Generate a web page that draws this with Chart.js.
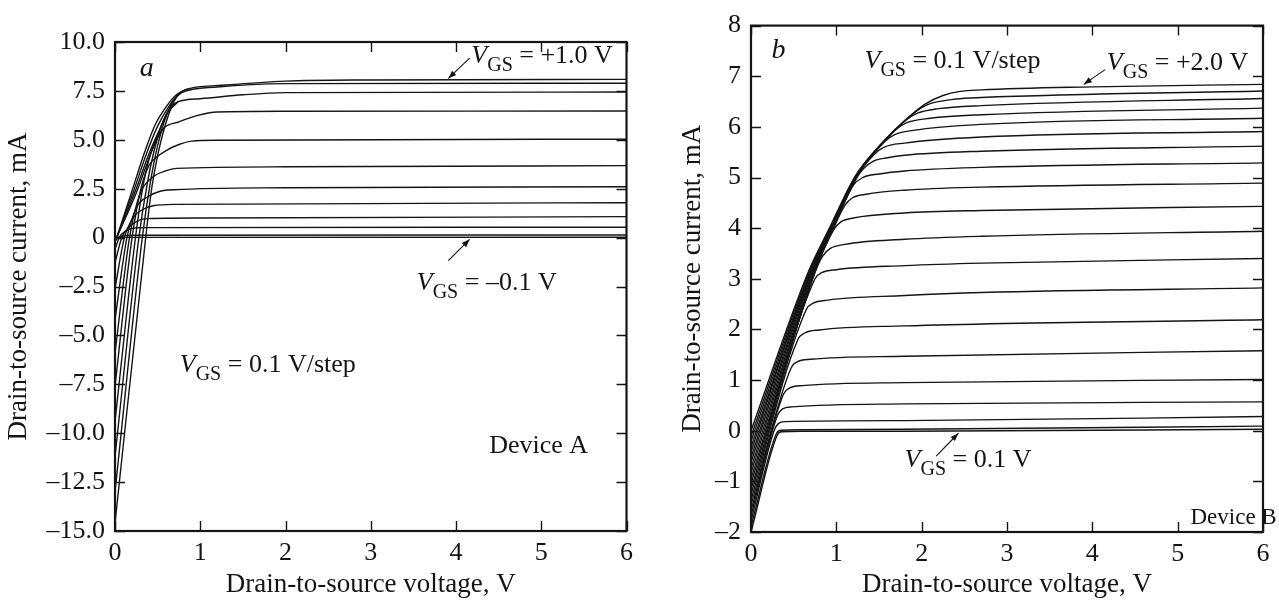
<!DOCTYPE html>
<html><head><meta charset="utf-8">
<script src="https://cdn.jsdelivr.net/npm/chart.js@4.4.1/dist/chart.umd.min.js"></script>
<style>
html,body{margin:0;padding:0;background:#fff;}
#wrap{position:relative;width:1279px;height:602px;overflow:hidden;background:#fff;}
#ca{position:absolute;left:0;top:0;}
#cb{position:absolute;left:640px;top:0;}
</style></head><body>
<div id="wrap"><canvas id="ca" width="640" height="602"></canvas><canvas id="cb" width="639" height="602"></canvas></div>
<script>
const FONT = '"Liberation Serif","Times New Roman",Times,serif';
const INK = '#141414';

// ---------- Panel a (Device A): VGS = -0.1 ... +1.0 V, step 0.1 V ----------
// [Vds (V), Ids (mA)]
const aVm01 = [[0,0],[0.1,0.01],[6,0.02]];
const aV00 = [[0,-0.2],[0.04,0.02],[0.12,0.1],[0.25,0.12],[6,0.13]];
const aV01 = [[0,-0.6],[0.05,0],[0.13,0.35],[0.25,0.5],[0.4,0.51],[6,0.53]];
const aV02 = [[0,-1.3],[0.08,0],[0.18,0.6],[0.28,0.88],[0.38,0.97],[1,1.0],[6,1.07]];
const aV03 = [[0,-2.6],[0.11,0],[0.22,1.05],[0.33,1.45],[0.45,1.63],[0.7,1.7],[6,1.78]];
const aV04 = [[0,-4.2],[0.14,0],[0.26,1.6],[0.39,2.1],[0.53,2.37],[0.7,2.45],[2,2.55],[6,2.6]];
const aV05 = [[0,-5.9],[0.17,0],[0.29,2.2],[0.43,3.05],[0.6,3.42],[0.72,3.54],[2,3.62],[6,3.68]];
const aV06 = [[0,-7.6],[0.2,0],[0.31,2.6],[0.4,3.7],[0.47,4.05],[0.6,4.45],[0.75,4.76],[0.9,4.93],[1.2,4.98],[6,5.03]];
const aV07 = [[0,-9.4],[0.24,0],[0.34,2.9],[0.45,4.7],[0.57,5.59],[0.75,5.92],[0.95,6.22],[1.2,6.42],[2,6.46],[6,6.47]];
const aV08 = [[0,-11.2],[0.28,0],[0.38,2.8],[0.48,4.8],[0.6,6.3],[0.74,6.95],[1,7.1],[1.5,7.3],[2,7.41],[6,7.44]];
const aV09 = [[0,-13],[0.32,0],[0.41,2.7],[0.5,4.7],[0.6,6.2],[0.7,7.1],[0.78,7.41],[1.2,7.7],[2,7.87],[6,7.89]];
const aV10 = [[0,-14.6],[0.36,0],[0.43,2.5],[0.51,4.4],[0.59,5.76],[0.69,6.95],[0.78,7.45],[0.88,7.63],[1.3,7.8],[2,8.0],[3,8.06],[6,8.09]];
// low-side branches rising from the origin
const aR07 = [[0.02,0],[0.26,2.4],[0.42,4.3],[0.5,5.1],[0.57,5.59]];
const aR08 = [[0.02,0],[0.24,2.4],[0.4,4.3],[0.52,5.5],[0.62,6.4],[0.74,6.95]];
const aR09 = [[0.02,0],[0.22,2.4],[0.37,4.3],[0.5,5.7],[0.63,6.7],[0.72,7.2],[0.78,7.41]];
const aR10 = [[0.02,0],[0.2,2.4],[0.35,4.4],[0.47,5.76],[0.61,6.75],[0.72,7.3],[0.82,7.55],[0.88,7.63]];

const aXTicks = [0,1,2,3,4,5,6];
const aYTicks = [10,7.5,5,2.5,0,-2.5,-5,-7.5,-10,-12.5,-15];
const aYLabels = ['10.0','7.5','5.0','2.5','0','\u20132.5','\u20135.0','\u20137.5','\u201310.0','\u201312.5','\u201315.0'];

// ---------- Panel b (Device B): VGS = 0.1 ... 2.0 V, step 0.1 V ----------
const b01 = [[0,-2.0],[0.31,-0.08],[0.36,-0.02],[0.6,-0.01],[1.8,-0.01],[6,0.03]];
const b02 = [[0,-1.89],[0.3,-0.05],[0.35,0.01],[0.6,0.02],[1.8,0.03],[6,0.09]];
const b03 = [[0,-1.79],[0.27,0.0],[0.32,0.14],[0.4,0.18],[1.8,0.2],[6,0.28]];
const b04 = [[0,-1.68],[0.31,0.3],[0.37,0.43],[0.48,0.47],[1.8,0.53],[6,0.57]];
const b05 = [[0,-1.58],[0.38,0.72],[0.45,0.84],[0.6,0.89],[1.8,0.95],[6,1.01]];
const b06 = [[0,-1.47],[0.47,1.24],[0.54,1.36],[0.7,1.41],[1.8,1.47],[6,1.58]];
const b07 = [[0,-1.37],[0.55,1.8],[0.63,1.93],[0.8,1.99],[1.8,2.07],[6,2.19]];
const b08 = [[0,-1.26],[0.65,2.4],[0.73,2.52],[0.9,2.58],[1.8,2.67],[2.7,2.73],[6,2.82]];
const b09 = [[0,-1.16],[0.75,3.0],[0.83,3.12],[1.0,3.18],[1.8,3.26],[2.7,3.31],[6,3.40]];
const b10 = [[0,-1.05],[0.75,3.13],[0.84,3.45],[0.93,3.6],[1.1,3.68],[1.8,3.78],[2.7,3.84],[6,3.94]];
const b11 = [[0,-0.95],[0.75,3.13],[0.97,3.97],[1.05,4.12],[1.2,4.2],[1.8,4.3],[2.7,4.35],[6,4.43]];
const b12 = [[0,-0.84],[0.74,3.13],[0.96,3.97],[1.1,4.45],[1.19,4.6],[1.35,4.67],[1.8,4.75],[2.7,4.81],[6,4.89]];
const b13 = [[0,-0.74],[0.73,3.13],[0.95,3.97],[1.2,4.85],[1.31,5.0],[1.5,5.07],[1.8,5.13],[2.7,5.2],[6,5.29]];
const b14 = [[0,-0.63],[0.72,3.13],[0.95,3.97],[1.25,5.02],[1.32,5.18],[1.43,5.32],[1.6,5.39],[1.8,5.44],[2.7,5.52],[6,5.62]];
const b15 = [[0,-0.53],[0.71,3.13],[0.94,3.97],[1.24,5.02],[1.44,5.45],[1.56,5.6],[1.8,5.68],[2.7,5.8],[6,5.91]];
const b16 = [[0,-0.42],[0.7,3.13],[0.94,3.97],[1.24,5.02],[1.56,5.7],[1.69,5.85],[1.9,5.93],[2.7,6.05],[6,6.17]];
const b17 = [[0,-0.32],[0.7,3.13],[0.93,3.97],[1.23,5.02],[1.54,5.67],[1.7,5.95],[1.82,6.08],[2.1,6.17],[2.7,6.24],[6,6.37]];
const b18 = [[0,-0.21],[0.69,3.13],[0.92,3.97],[1.23,5.02],[1.54,5.67],[1.83,6.15],[1.95,6.27],[2.2,6.36],[2.7,6.42],[6,6.56]];
const b19 = [[0,-0.11],[0.68,3.13],[0.92,3.97],[1.22,5.02],[1.53,5.67],[1.8,6.12],[2.0,6.38],[2.1,6.46],[2.4,6.55],[2.7,6.58],[6,6.71]];
const b20 = [[0,0],[0.67,3.13],[0.91,3.97],[1.22,5.02],[1.53,5.67],[1.8,6.12],[2.04,6.45],[2.25,6.62],[2.45,6.7],[2.7,6.73],[4,6.79],[6,6.84]];

const bXTicks = [0,1,2,3,4,5,6];
const bYTicks = [8,7,6,5,4,3,2,1,0,-1,-2];
const bYLabels = ['8','7','6','5','4','3','2','1','0','\u20131','\u20132'];

const curvesA = [aVm01,aV00,aV01,aV02,aV03,aV04,aV05,aV06,aV07,aV08,aV09,aV10,aR07,aR08,aR09,aR10];
const curvesB = [b01,b02,b03,b04,b05,b06,b07,b08,b09,b10,b11,b12,b13,b14,b15,b16,b17,b18,b19,b20];

// ---------- plugins ----------
const framePlugin = {
  id:'frame',
  afterDatasetsDraw(chart){
    const {ctx, chartArea:a, scales:{x,y}} = chart;
    ctx.save();
    ctx.strokeStyle = INK;
    ctx.lineWidth = 1.4;
    const L = 10;
    ctx.beginPath();
    x.ticks.forEach(t=>{
      const p = Math.round(x.getPixelForValue(t.value))+0.5;
      ctx.moveTo(p,a.bottom); ctx.lineTo(p,a.bottom-L);
      ctx.moveTo(p,a.top); ctx.lineTo(p,a.top+L);
    });
    y.ticks.forEach(t=>{
      const p = Math.round(y.getPixelForValue(t.value))+0.5;
      ctx.moveTo(a.left,p); ctx.lineTo(a.left+L,p);
      ctx.moveTo(a.right,p); ctx.lineTo(a.right-L,p);
    });
    ctx.stroke();
    ctx.lineWidth = 2.2;
    ctx.strokeRect(a.left, a.top, a.right-a.left, a.bottom-a.top);
    ctx.restore();
  }
};

function drawParts(ctx, px, py, parts){
  let cx = px;
  parts.forEach(([txt, st])=>{
    let dy = 0;
    if (st==='i') ctx.font = 'italic 26px '+FONT;
    else if (st==='I') ctx.font = 'italic 28px '+FONT;
    else if (st==='sub') { ctx.font = '20px '+FONT; dy = 8; }
    else if (st==='s') ctx.font = '23px '+FONT;
    else ctx.font = '26px '+FONT;
    ctx.fillText(txt, cx, py+dy);
    cx += ctx.measureText(txt).width;
  });
}

const notePlugin = {
  id:'notes',
  afterDraw(chart, args, opts){
    const {ctx, scales:{x,y}} = chart;
    ctx.save();
    ctx.fillStyle = INK; ctx.strokeStyle = INK;
    ctx.textBaseline = 'alphabetic'; ctx.textAlign = 'left';
    (opts.notes||[]).forEach(n=>{
      drawParts(ctx, x.getPixelForValue(n.x), y.getPixelForValue(n.y), n.parts);
    });
    (opts.arrows||[]).forEach(ar=>{
      const x0 = x.getPixelForValue(ar.from[0]), y0 = y.getPixelForValue(ar.from[1]);
      const x1 = x.getPixelForValue(ar.to[0]), y1 = y.getPixelForValue(ar.to[1]);
      ctx.lineWidth = 1.1;
      ctx.beginPath(); ctx.moveTo(x0,y0); ctx.lineTo(x1,y1); ctx.stroke();
      const ang = Math.atan2(y1-y0, x1-x0), len = 8, w = 3;
      const bx = x1 - len*Math.cos(ang), by = y1 - len*Math.sin(ang);
      ctx.beginPath();
      ctx.moveTo(x1,y1);
      ctx.lineTo(bx + w*Math.sin(ang), by - w*Math.cos(ang));
      ctx.lineTo(bx - w*Math.sin(ang), by + w*Math.cos(ang));
      ctx.closePath(); ctx.fill();
    });
    ctx.restore();
  }
};

function build(id, curves, cfg){
  return new Chart(document.getElementById(id), {
    type:'line',
    data:{datasets: curves.map(c=>({
      data: c.map(p=>({x:p[0], y:p[1]})),
      borderColor: INK, borderWidth: 1.4, pointRadius: 0, fill: false,
      cubicInterpolationMode: 'monotone'
    }))},
    options:{
      responsive:false, animation:false, events:[],
      layout:{padding:cfg.padding},
      plugins:{legend:{display:false}, tooltip:{enabled:false}, notes:{notes:cfg.notes, arrows:cfg.arrows}},
      scales:{
        x:{
          type:'linear', min:0, max:6,
          afterBuildTicks: s=>{ s.ticks = cfg.xTicks.map(v=>({value:v})); },
          afterFit: s=>{ s.height = cfg.xH; },
          ticks:{ callback:(v,i)=>String(cfg.xTicks[i]), font:{family:FONT,size:26}, color:INK, padding:7, maxRotation:0, autoSkip:false },
          grid:{display:false, drawTicks:false}, border:{display:false},
          title:{display:true, text:'Drain-to-source voltage, V', font:{family:FONT,size:27}, color:INK, padding:{top:0,bottom:1}}
        },
        y:{
          type:'linear', min:cfg.yMin, max:cfg.yMax,
          afterBuildTicks: s=>{ s.ticks = cfg.yTicks.map(v=>({value:v})); },
          afterFit: s=>{ s.width = cfg.yW; },
          ticks:{ callback:(v,i)=>cfg.yLabels[i], font:{family:FONT,size:26}, color:INK, padding:10, autoSkip:false },
          grid:{display:false, drawTicks:false}, border:{display:false},
          title:{display:true, text:'Drain-to-source current, mA', font:{family:FONT,size:27}, color:INK, padding:{top:cfg.yTitlePad,bottom:0}}
        }
      }
    },
    plugins:[framePlugin, notePlugin]
  });
}

const VGS = [['V','i'],['GS','sub']];

build('ca', curvesA, {
  padding:{left:0, top:42, right:13, bottom:0},
  xH:71, yW:115, yTitlePad:3,
  yMin:-15, yMax:10,
  xTicks:aXTicks, yTicks:aYTicks, yLabels:aYLabels,
  notes:[
    {x:0.29, y:8.26, parts:[['a','I']]},
    {x:4.18, y:8.93, parts:[...VGS, [' = +1.0 V','']]},
    {x:3.54, y:-2.68, parts:[...VGS, [' = \u20130.1 V','']]},
    {x:0.76, y:-6.86, parts:[...VGS, [' = 0.1 V/step','']]},
    {x:4.39, y:-11.0, parts:[['Device A','']]}
  ],
  arrows:[
    {from:[4.16, 9.18], to:[3.91, 8.14]},
    {from:[3.91, -1.18], to:[4.16, -0.09]}
  ]
});

build('cb', curvesB, {
  padding:{left:0, top:20, right:16, bottom:0},
  xH:70, yW:111, yTitlePad:37,
  yMin:-2, yMax:8,
  xTicks:bXTicks, yTicks:bYTicks, yLabels:bYLabels,
  notes:[
    {x:0.24, y:7.36, parts:[['b','I']]},
    {x:1.33, y:7.17, parts:[...VGS, [' = 0.1 V/step','']]},
    {x:4.17, y:7.13, parts:[...VGS, [' = +2.0 V','']]},
    {x:1.80, y:-0.71, parts:[...VGS, [' = 0.1 V','']]},
    {x:5.15, y:-1.85, parts:[['Device B','s']]}
  ],
  arrows:[
    {from:[4.15, 7.13], to:[3.90, 6.84]},
    {from:[2.17, -0.5], to:[2.43, -0.05]}
  ]
});
</script>
</body></html>
